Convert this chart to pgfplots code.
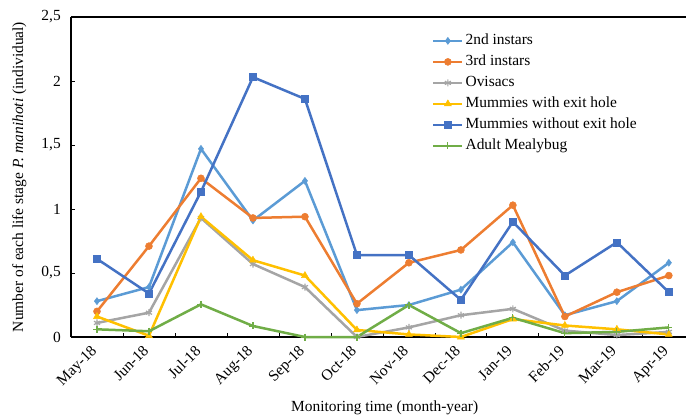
\documentclass[border=0pt]{standalone}
\usepackage{fontspec}
\setmainfont{Liberation Serif}
\usepackage{pgfplots}
\pgfplotsset{compat=1.18}
\definecolor{cA}{HTML}{5B9BD5}
\definecolor{cB}{HTML}{ED7D31}
\definecolor{cC}{HTML}{A5A5A5}
\definecolor{cD}{HTML}{FFC000}
\definecolor{cE}{HTML}{4472C4}
\definecolor{cF}{HTML}{70AD47}
\newcommand{\ff}{\fontsize{15.5}{18}\selectfont}
\begin{document}
\begin{tikzpicture}
\begin{axis}[
  name=ax,
  scale only axis, width=615bp, height=320bp,
  xmin=-0.5, xmax=11.33, ymin=0, ymax=2.5,
  axis x line*=box, axis y line*=left,
  axis line style={line width=1.2bp, black},
  clip=false,
  xtick={0,...,11},
  xticklabels={May-18,Jun-18,Jul-18,Aug-18,Sep-18,Oct-18,Nov-18,Dec-18,Jan-19,Feb-19,Mar-19,Apr-19},
  minor xtick={0.5,1.5,...,10.5},
  major x tick style={draw=none},
  minor x tick style={black, line width=0.8bp},
  minor tick length=4bp,
  major tick length=4bp,
  tick align=inside,
  xtick pos=bottom, ytick pos=left,
  ytick={0,0.5,1,1.5,2,2.5},
  yticklabels={0,{0,5},1,{1,5},2,{2,5}},
  y tick style={black, line width=0.8bp},
  /pgf/number format/assume math mode=true,
  tick label style={font=\ff},
  xticklabel style={xshift=-7bp, yshift=-6bp, rotate=45, anchor=north east, inner sep=1bp},
  yticklabel style={inner sep=1bp, xshift=-9bp},
  xlabel={Monitoring time (month-year)},
  ylabel={Number of each life stage \textit{P. manihoti} (individual)},
  label style={font=\ff},
  xlabel style={at={(axis description cs:0.51,-0.222)}, anchor=center},
  ylabel style={at={(axis description cs:-0.084,0.5)}, anchor=center},
  legend style={draw=none, fill=none, font=\ff, at={(axis description cs:0.582,0.965)}, anchor=north west,
    nodes={inner ysep=3.5bp, inner xsep=2bp, text height=11bp, text depth=3bp}, row sep=0pt},
  legend cell align=left,
  legend image code/.code={\draw[mark repeat=2,mark phase=2] plot coordinates {(0bp,0bp) (14.5bp,0bp) (29bp,0bp)};},
  every axis plot/.append style={line width=2.5bp},
]
\addplot[color=cA, mark=diamond*, mark size=3.5bp, mark options={line width=0.5bp}] coordinates {
(0,0.28) (1,0.39) (2,1.47) (3,0.91) (4,1.22) (5,0.21) (6,0.25) (7,0.37) (8,0.74) (9,0.17) (10,0.28) (11,0.58)};
\addlegendentry{2nd instars}
\addplot[color=cB, mark=*, mark size=3.5bp, mark options={line width=0.5bp}] coordinates {
(0,0.20) (1,0.71) (2,1.24) (3,0.93) (4,0.94) (5,0.26) (6,0.58) (7,0.68) (8,1.03) (9,0.16) (10,0.35) (11,0.48)};
\addlegendentry{3rd instars}
\addplot[color=cC, mark=asterisk, mark size=3.5bp, mark options={line width=1.2bp}] coordinates {
(0,0.11) (1,0.19) (2,0.93) (3,0.57) (4,0.39) (5,0.00) (6,0.075) (7,0.17) (8,0.22) (9,0.05) (10,0.015) (11,0.04)};
\addlegendentry{Ovisacs}
\addplot[color=cD, mark=triangle*, mark size=4bp, mark options={line width=0.5bp}] coordinates {
(0,0.16) (1,0.01) (2,0.94) (3,0.60) (4,0.48) (5,0.055) (6,0.02) (7,0.00) (8,0.14) (9,0.09) (10,0.06) (11,0.02)};
\addlegendentry{Mummies with exit hole}
\addplot[color=cE, mark=square*, mark size=3.5bp, mark options={line width=0.5bp}] coordinates {
(0,0.61) (1,0.34) (2,1.135) (3,2.03) (4,1.86) (5,0.64) (6,0.64) (7,0.29) (8,0.90) (9,0.48) (10,0.74) (11,0.35)};
\addlegendentry{Mummies without exit hole}
\addplot[color=cF, mark=+, mark size=3.5bp, mark options={line width=1.2bp}] coordinates {
(0,0.06) (1,0.045) (2,0.255) (3,0.086) (4,0.00) (5,0.00) (6,0.25) (7,0.03) (8,0.15) (9,0.03) (10,0.04) (11,0.075)};
\addlegendentry{Adult Mealybug}
\end{axis}
\pgfresetboundingbox
\path[use as bounding box] ([xshift=-71bp,yshift=-80bp]ax.south west) rectangle ([yshift=17bp]ax.north east);
\end{tikzpicture}
\end{document}
